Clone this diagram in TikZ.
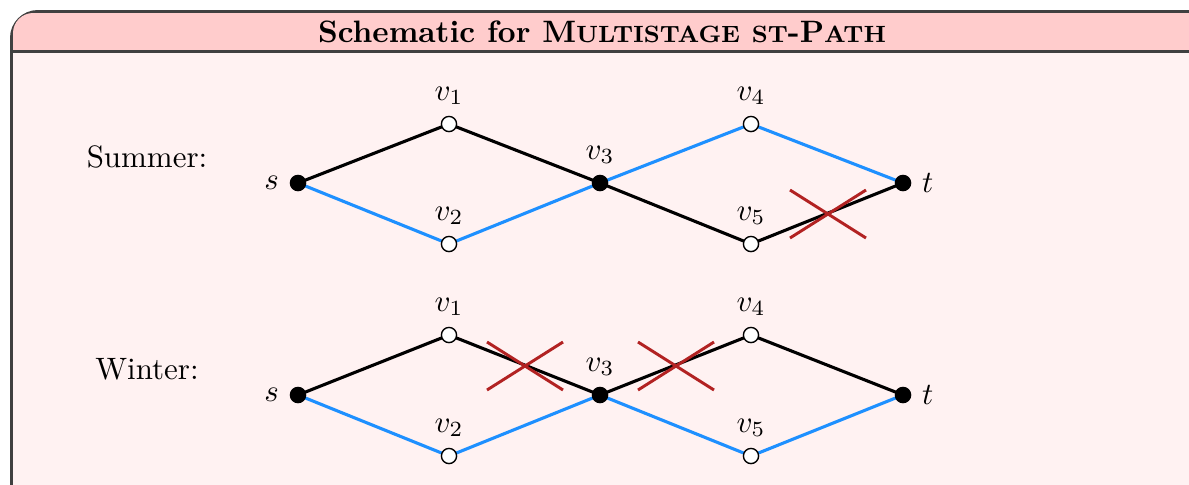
\documentclass[tikz,border=0pt]{standalone}
\usetikzlibrary{calc}
\pgfdeclarelayer{edges}
\pgfsetlayers{edges,main}
\definecolor{sblue}{RGB}{30,144,255}
\definecolor{xred}{RGB}{178,34,34}
\newcommand\scfake[1]{{\fontsize{7.6}{9}\selectfont #1}}
\tikzset{
  vtx/.style={circle,draw=black,line width=0.45pt,fill=white,minimum size=4.9pt,inner sep=0pt},
  term/.style={vtx,fill=black},
  blk/.style={line width=1pt,black},
  blu/.style={line width=1pt,sblue},
  xmark/.style={line width=0.95pt,xred},
  season/.style={inner sep=0pt}
}
\begin{document}
\begin{tikzpicture}[x=0.323pt,y=-0.323pt]
\useasboundingbox (0,0) rectangle (1189,484);
\clip (0,0) rectangle (1189,484);
\begin{pgfonlayer}{edges}
\fill[black!75,rounded corners=9] (10,10) rectangle (1230,540);
\fill[red!20,rounded corners=6.5] (13,13) rectangle (1227,537);
\fill[red!5] (13,53) rectangle (1227,537);
\fill[black!75] (13,50) rectangle (1227,53);
\end{pgfonlayer}
\node (title) at (602,32) {\textbf{Schematic for M\scfake{ULTISTAGE} \scfake{ST}-P\scfake{ATH}}};
% Summer
\node[season] (summer) at (147,157) {Summer:};
\node[term,label=left:$s$]  (s1)  at (298,183) {};
\node[vtx,label=above:$v_1$] (a1) at (449,124) {};
\node[vtx,label=above:$v_2$] (b1) at (449,244) {};
\node[term,label=above:$v_3$] (c1) at (600,183) {};
\node[vtx,label=above:$v_4$] (d1) at (751,124) {};
\node[vtx,label=above:$v_5$] (e1) at (751,244) {};
\node[term,label=right:$t$]  (t1)  at (903,183) {};
% Winter
\node[season] (winter) at (147,369) {Winter:};
\node[term,label=left:$s$]  (s2)  at (298,395) {};
\node[vtx,label=above:$v_1$] (a2) at (449,335) {};
\node[vtx,label=above:$v_2$] (b2) at (449,456) {};
\node[term,label=above:$v_3$] (c2) at (600,395) {};
\node[vtx,label=above:$v_4$] (d2) at (751,335) {};
\node[vtx,label=above:$v_5$] (e2) at (751,456) {};
\node[term,label=right:$t$]  (t2)  at (903,395) {};
\begin{pgfonlayer}{edges}
\draw[blk] (s1.center) -- (a1.center) -- (c1.center) -- (e1.center) -- (t1.center);
\draw[blu] (s1.center) -- (b1.center) -- (c1.center) -- (d1.center) -- (t1.center);
\draw[blk] (s2.center) -- (a2.center) -- (c2.center) -- (d2.center) -- (t2.center);
\draw[blu] (s2.center) -- (b2.center) -- (c2.center) -- (e2.center) -- (t2.center);
\end{pgfonlayer}
% crosses
\coordinate (x1) at (828,214);
\coordinate (x2) at (525,366);
\coordinate (x3) at (676,366);
\foreach \c in {x1,x2,x3}{
  \draw[xmark] ($(\c)+(-38,-24)$) -- ($(\c)+(38,24)$);
  \draw[xmark] ($(\c)+(-38,24)$) -- ($(\c)+(38,-24)$);
}
\end{tikzpicture}
\end{document}
